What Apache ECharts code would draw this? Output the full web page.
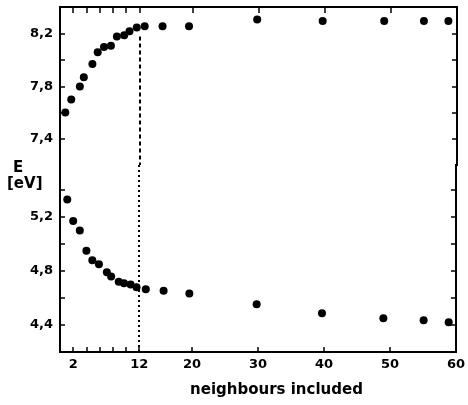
<!DOCTYPE html>
<html>
<head>
<meta charset="utf-8">
<script src="https://cdn.jsdelivr.net/npm/echarts@6/dist/echarts.min.js"></script>
<style>html,body{margin:0;padding:0;background:#fff}#c{width:468px;height:405px}</style>
</head>
<body>
<div id="c"></div>
<script>
// number of neighbours (x) and energies (eV) of the upper branch
const upperX = [0.8, 1.7, 3.0, 3.6, 4.9, 5.7, 6.65, 7.7, 8.6, 9.7, 10.5, 11.6, 12.8, 15.5, 19.5, 29.8, 39.7, 49.0, 55.0, 58.7];
const upperE = [7.60, 7.70, 7.80, 7.87, 7.97, 8.06, 8.10, 8.11, 8.18, 8.19, 8.22, 8.25, 8.26, 8.26, 8.26, 8.31, 8.30, 8.30, 8.30, 8.30];
// lower branch
const lowerX = [1.1, 2.0, 3.0, 4.0, 4.9, 5.9, 7.1, 7.75, 8.9, 9.7, 10.7, 11.6, 13.0, 15.7, 19.6, 29.8, 39.7, 49.0, 55.1, 58.9];
const lowerE = [5.33, 5.17, 5.10, 4.95, 4.88, 4.85, 4.79, 4.76, 4.72, 4.71, 4.70, 4.68, 4.665, 4.653, 4.634, 4.553, 4.487, 4.450, 4.435, 4.420];
// axes
const xTickValues = [2, 4, 6, 8, 10, 12, 20, 30, 40, 50];
const xLabelValues = [2, 12, 20, 30, 40, 50, 60];
const upperTicks = [7.4, 7.6, 7.8, 8.0, 8.2];
const upperLabels = [7.4, 7.8, 8.2];
const lowerTicks = [4.4, 4.6, 4.8, 5.0, 5.2, 5.4];
const lowerLabels = [4.4, 4.8, 5.2];
const dividerX = 12;
const xTitle = 'neighbours included';
const yTitle1 = 'E';
const yTitle2 = '[eV]';

const upperMin = 7.2, upperMax = 8.406;
const lowerMin = 4.2, lowerMax = 5.585;

const FONT = 'DejaVu Sans';
const fmt = v => Number(v).toFixed(1).replace('.', ',');

function yAx(gi, pos, min, max, ticks, labels, showLabels) {
  return {
    type: 'value', gridIndex: gi, position: pos, min: min, max: max,
    axisLine: { show: true, onZero: false, lineStyle: { color: '#000', width: 2, cap: 'square' } },
    axisTick: { show: true, inside: true, length: 5, customValues: ticks, lineStyle: { color: '#000', width: 1.5 } },
    axisLabel: { show: showLabels, customValues: labels, formatter: fmt, color: '#000',
      fontFamily: FONT, fontWeight: 'bold', fontSize: 13, margin: 7 },
    splitLine: { show: false }
  };
}

const dash = { color: '#000', type: [4, 3], width: 2, opacity: 1 };

const chart = echarts.init(document.getElementById('c'), null, { renderer: 'canvas' });
chart.setOption({
  animation: false,
  backgroundColor: '#fff',
  grid: [
    { left: 60, right: 11, top: 7, height: 158 },
    { left: 60, right: 11, top: 165, height: 187 }
  ],
  xAxis: [
    { type: 'value', gridIndex: 0, position: 'top', min: 0, max: 60,
      axisLine: { show: true, onZero: false, lineStyle: { color: '#000', width: 2, cap: 'square' } },
      axisTick: { show: true, inside: true, length: 6, customValues: xTickValues, lineStyle: { color: '#000', width: 1.5 } },
      axisLabel: { show: false }, splitLine: { show: false } },
    { type: 'value', gridIndex: 1, position: 'bottom', min: 0, max: 60,
      name: xTitle, nameLocation: 'middle', nameGap: 31,
      nameTextStyle: { color: '#000', fontFamily: FONT, fontWeight: 'bold', fontSize: 15, padding: [0, 0, 0, 37] },
      axisLine: { show: true, onZero: false, lineStyle: { color: '#000', width: 2, cap: 'square' } },
      axisTick: { show: true, inside: true, length: 5, customValues: xTickValues, lineStyle: { color: '#000', width: 1.5 } },
      axisLabel: { show: true, customValues: xLabelValues, color: '#000', fontFamily: FONT, fontWeight: 'bold', fontSize: 13, margin: 6 },
      splitLine: { show: false } }
  ],
  yAxis: [
    yAx(0, 'left', upperMin, upperMax, upperTicks, upperLabels, true),
    yAx(0, 'right', upperMin, upperMax, upperTicks, upperLabels, false),
    yAx(1, 'left', lowerMin, lowerMax, lowerTicks, lowerLabels, true),
    yAx(1, 'right', lowerMin, lowerMax, lowerTicks, lowerLabels, false)
  ],
  graphic: [
    { type: 'text', left: 13, top: 161, style: { text: yTitle1, fill: '#000', font: 'bold 15px "DejaVu Sans"' } },
    { type: 'text', left: 7, top: 177, style: { text: yTitle2, fill: '#000', font: 'bold 15px "DejaVu Sans"' } }
  ],
  series: [
    { type: 'scatter', xAxisIndex: 0, yAxisIndex: 0, symbolSize: 8,
      itemStyle: { color: '#000', opacity: 1 },
      data: upperX.map((x, i) => [x, upperE[i]]),
      markLine: { silent: true, symbol: ['none', 'none'], label: { show: false }, z: 1,
        lineStyle: dash, emphasis: { disabled: true },
        data: [[{ coord: [dividerX, 8.18] }, { coord: [dividerX, upperMin] }]] } },
    { type: 'scatter', xAxisIndex: 1, yAxisIndex: 2, symbolSize: 8,
      itemStyle: { color: '#000', opacity: 1 },
      data: lowerX.map((x, i) => [x, lowerE[i]]),
      markLine: { silent: true, symbol: ['none', 'none'], label: { show: false }, z: 1,
        lineStyle: { color: '#000', type: [2, 3], width: 2, opacity: 1 }, emphasis: { disabled: true },
        data: [[{ coord: [dividerX, lowerMax] }, { coord: [dividerX, lowerMin] }]] } }
  ]
});
</script>
</body>
</html>
